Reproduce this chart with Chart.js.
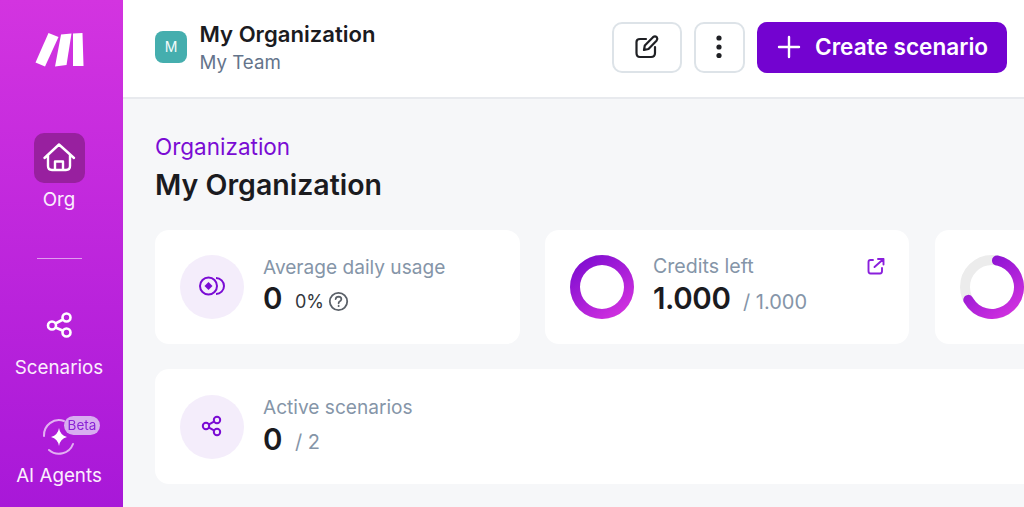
<!DOCTYPE html>
<html>
<head>
<meta charset="utf-8">
<style>
  html, body { margin: 0; width: 1024px; height: 507px; overflow: hidden; background: #f6f7f9; font-family: Inter, sans-serif; }
  .box { position: absolute; box-sizing: border-box; }
  .t { position: absolute; white-space: nowrap; transform: translateY(-50%); line-height: 1.2; }
  .c { transform: translate(-50%, -50%); }
  .card { background: #fff; border-radius: 14px; }
  canvas { position: absolute; display: block; }
  .grey { color: #8595a8; }
  .num { font-size: 29.5px; font-weight: 600; color: #1b1b1f; }
  .nav { color: #fbeefd; font-size: 18.8px; }
</style>
</head>
<body>
<div class="box" style="left:0;top:0;width:123px;height:507px;background:linear-gradient(180deg,#d334e0,#a818d8)"></div>
<div class="box" style="left:123px;top:0;width:901px;height:99px;background:#fff;border-bottom:2px solid #e8eaee"></div>
<div class="box" style="left:34px;top:133px;width:51px;height:50px;border-radius:10px;background:#98209f"></div>
<div class="box" style="left:37px;top:258px;width:45px;height:1px;background:rgba(255,255,255,.55)"></div>

<div class="box" style="left:155px;top:31px;width:32px;height:32px;border-radius:8px;background:#45aeae"></div>
<div class="t c" style="left:171px;top:47px;color:#f2fbfb;font-size:14px">M</div>
<div class="t" style="left:199.5px;top:34px;font-size:22.1px;font-weight:600;color:#1b1b1f" id="orgTitle"></div>
<div class="t" style="left:199.5px;top:63px;font-size:18.7px;color:#64748b" id="teamName"></div>

<div class="box" style="left:612px;top:22px;width:70px;height:51px;border:2px solid #dde3e8;border-radius:10px;background:#fff"></div>
<div class="box" style="left:694px;top:22px;width:51px;height:51px;border:2px solid #dde3e8;border-radius:10px;background:#fff"></div>
<div class="box" style="left:757px;top:22px;width:250px;height:51px;border-radius:10px;background:#7303d0"></div>
<div class="t" style="left:815px;top:47px;font-size:22.6px;font-weight:600;color:#fff" id="createLabel"></div>

<div class="t" style="left:155px;top:145.5px;font-size:22.5px;color:#7a0bd4" id="crumb"></div>
<div class="t" style="left:155px;top:185px;font-size:28.5px;font-weight:600;color:#1b1b1f" id="pageTitle"></div>

<div class="box card" style="left:155px;top:230px;width:365px;height:113.5px"></div>
<div class="box card" style="left:545px;top:230px;width:364px;height:113.5px"></div>
<div class="box card" style="left:935px;top:230px;width:200px;height:113.5px"></div>
<div class="box card" style="left:155px;top:369px;width:1000px;height:115px"></div>

<div class="box" style="left:180px;top:255px;width:64px;height:64px;border-radius:50%;background:#f4edfb"></div>
<div class="box" style="left:180px;top:395px;width:64px;height:64px;border-radius:50%;background:#f4edfb"></div>

<div class="t grey" style="left:263px;top:266.5px;font-size:19.1px" id="usageLabel"></div>
<div class="t num" style="left:263px;top:299px" id="usageValue"></div>
<div class="t" style="left:295px;top:302px;font-size:18px;color:#33363c" id="usagePct"></div>

<div class="t grey" style="left:653px;top:267px;font-size:19.6px" id="creditsLabel"></div>
<div class="t num" style="left:653px;top:299px;letter-spacing:-0.4px" id="creditsValue"></div>
<div class="t grey" style="left:743px;top:302px;font-size:20px" id="creditsTotalText"></div>

<div class="t grey" style="left:263px;top:407px;font-size:19.1px" id="activeLabel"></div>
<div class="t num" style="left:263px;top:439.5px" id="activeValue"></div>
<div class="t grey" style="left:295px;top:442px;font-size:20px" id="activeTotal"></div>

<div class="t nav c" style="left:59px;top:199.5px" id="navOrg"></div>
<div class="t nav c" style="left:59px;top:367.5px" id="navScenarios"></div>
<div class="t nav c" style="left:59px;top:475.5px" id="navAgents"></div>

<canvas id="creditsRing" width="64" height="64" style="left:570px;top:255px;width:64px;height:64px"></canvas>
<canvas id="thirdRing" width="64" height="64" style="left:960px;top:255px;width:64px;height:64px"></canvas>

<svg class="box" width="1024" height="507" style="left:0;top:0;pointer-events:none" fill="none">
  <!-- logo -->
  <g fill="#fff">
    <polygon points="48.5,33 58.5,37 45,66.5 35.5,62.5"/>
    <polygon points="61,34.5 71.5,33.5 66.5,65 55,66.5"/>
    <polygon points="73,33.5 82.5,33 83.5,66 73,66"/>
  </g>
  <!-- home -->
  <path d="M44.5 158 L59 144.5 L74 158 M48 155 V166 Q48 170 52 170 H66 Q70 170 70 166 V155 M55 170 V161.5 H63 V170" stroke="#fff" stroke-width="2.4" stroke-linejoin="round" stroke-linecap="round"/>
  <!-- scenarios nav -->
  <g stroke="#fff" stroke-width="2.6">
    <circle cx="66.5" cy="317.5" r="4"/><circle cx="52" cy="325.5" r="4"/><circle cx="66.5" cy="332.5" r="4"/>
    <path d="M55.5 323.5 L63 319.5 M55.5 327.5 L63 330.8"/>
  </g>
  <!-- ai agents -->
  <path d="M49 450 A15 15 0 0 0 73 444 M44 436 A15 15 0 0 1 64 421" stroke="rgba(255,255,255,.65)" stroke-width="2" stroke-linecap="round"/>
  <path d="M59 428 Q60 435 67 437 Q60 439 59 446 Q58 439 51 437 Q58 435 59 428Z" fill="#fff"/>
  <rect x="64" y="416" width="36" height="19" rx="9.5" fill="#d8adf0"/>
  <text x="82" y="430" text-anchor="middle" font-size="13.5" fill="#8a22d6" font-family="Inter" id="betaTag"></text>
  <!-- edit -->
  <g stroke="#1f2024" stroke-width="2.2" stroke-linecap="round" stroke-linejoin="round">
    <path d="M646 39 H640 Q636.5 39 636.5 42 V53 Q636.5 57 640 57 H651 Q655 57 655 53 V47"/>
    <path d="M644 50 L644.8 45.5 L653 37.2 Q655 35.5 656.8 37.2 Q658 39 656.5 40.8 L648.5 49 Z"/>
  </g>
  <!-- dots -->
  <g fill="#1f2024"><circle cx="719" cy="38" r="2.6"/><circle cx="719" cy="47" r="2.6"/><circle cx="719" cy="55.5" r="2.6"/></g>
  <!-- plus -->
  <path d="M789 37 V57 M779 47 H799" stroke="#fff" stroke-width="2.4" stroke-linecap="round"/>
  <!-- usage coins -->
  <g stroke="#7a0bd4" stroke-width="2">
    <circle cx="208.5" cy="286" r="8.5"/>
    <path d="M216 278 A8 8 0 0 1 216 294"/>
  </g>
  <path d="M208.5 282 L212.5 286 L208.5 290 L204.5 286Z" fill="#7a0bd4"/>
  <!-- help -->
  <circle cx="338.5" cy="301.5" r="8.7" stroke="#5a6068" stroke-width="1.8"/>
  <path d="M335.6 299.2 Q336 296.6 338.6 296.6 Q341.4 296.8 341.4 299.2 Q341.2 300.8 339.6 301.6 Q338.6 302.2 338.6 303.3" stroke="#5a6068" stroke-width="1.7" stroke-linecap="round"/>
  <circle cx="338.6" cy="306" r="1" fill="#5a6068"/>
  <!-- external link -->
  <g stroke="#8a1fdc" stroke-width="1.9" stroke-linecap="round" stroke-linejoin="round">
    <path d="M873 260 H870.5 Q868.5 260 868.5 262 V271 Q868.5 273.5 870.5 273.5 H880 Q882 273.5 882 271 V268"/>
    <path d="M874.5 267 L883.5 259 M878 259 H883.5 V264.5"/>
  </g>
  <!-- active scenarios -->
  <g stroke="#7a0bd4" stroke-width="2">
    <circle cx="217" cy="420" r="3.2"/><circle cx="206" cy="426" r="3.2"/><circle cx="217" cy="432" r="3.2"/>
    <path d="M209 424.4 L214 421.6 M209 427.6 L214 430.4"/>
  </g>
</svg>

<script src="https://cdn.jsdelivr.net/npm/chart.js@4"></script>
<script>
// -----------------------------------------------------------------------DATA
const creditsLeft = 1000;
const creditsTotal = 1000;
const thirdRingValues = [70, 30];

const usageValue = 0;
const usagePercent = "0%";
const activeScenarios = 0;
const scenarioLimit = 2;

const navLabels = ["Org", "Scenarios", "AI Agents"];
const cardLabels = ["Average daily usage", "Credits left", "Active scenarios"];

// -----------------------------------------------------------------------TEXT
const setText = (id, txt) => (document.getElementById(id).textContent = txt);
const fmt = (n) => n.toLocaleString("de-DE");

setText("orgTitle", "My Organization");
setText("teamName", "My Team");
setText("createLabel", "Create scenario");
setText("crumb", "Organization");
setText("pageTitle", "My Organization");
setText("navOrg", navLabels[0]);
setText("navScenarios", navLabels[1]);
setText("navAgents", navLabels[2]);
setText("betaTag", "Beta");
setText("usageLabel", cardLabels[0]);
setText("usageValue", usageValue);
setText("usagePct", usagePercent);
setText("creditsLabel", cardLabels[1]);
setText("creditsValue", fmt(creditsLeft));
setText("creditsTotalText", "/ " + fmt(creditsTotal));
setText("activeLabel", cardLabels[2]);
setText("activeValue", activeScenarios);
setText("activeTotal", "/ " + scenarioLimit);

// -----------------------------------------------------------------------CHARTS
// grey ring behind the arc
const trackPlugin = {
  id: "track",
  beforeDatasetsDraw(chart) {
    const arc = chart.getDatasetMeta(0).data[0];
    const { ctx } = chart;
    ctx.save();
    ctx.beginPath();
    ctx.arc(arc.x, arc.y, (arc.outerRadius + arc.innerRadius) / 2, 0, Math.PI * 2);
    ctx.lineWidth = arc.outerRadius - arc.innerRadius;
    ctx.strokeStyle = "#ececec";
    ctx.stroke();
    ctx.restore();
  },
};

// first slice gets the gradient, the rest of the ring stays see-through
const ringFill = (context) => {
  if (context.dataIndex !== 0) return "rgba(0,0,0,0)";
  const { ctx, chartArea } = context.chart;
  if (!chartArea) return "#a01fd8";
  const g = ctx.createLinearGradient(chartArea.left + 8, chartArea.top, chartArea.right - 8, chartArea.bottom);
  g.addColorStop(0, "#7a0bd0");
  g.addColorStop(1, "#d834e0");
  return g;
};

function renderRing(canvasId, values, radius) {
  return new Chart(document.getElementById(canvasId), {
    type: "doughnut",
    data: {
      datasets: [
        {
          data: values,
          backgroundColor: ringFill,
          borderWidth: 0,
          borderRadius: radius,
        },
      ],
    },
    options: {
      responsive: false,
      animation: false,
      cutout: "68.75%",
      events: [],
      plugins: { legend: { display: false }, tooltip: { enabled: false } },
    },
    plugins: [trackPlugin],
  });
}

renderRing("creditsRing", [creditsLeft, creditsTotal - creditsLeft], 0);
renderRing("thirdRing", thirdRingValues, 5);
</script>
</body>
</html>
